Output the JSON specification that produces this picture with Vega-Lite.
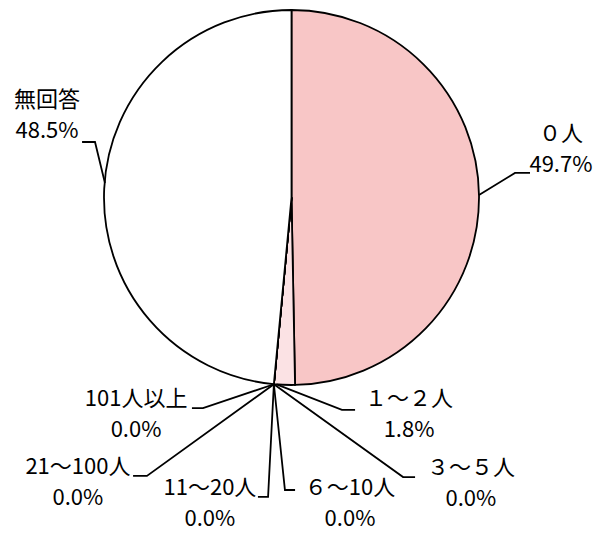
{
  "$schema": "https://vega.github.io/schema/vega-lite/v6.json",
  "width": 593,
  "height": 533,
  "padding": 0,
  "autosize": {"type": "none"},
  "background": "white",
  "config": {"view": {"stroke": null}},
  "datasets": {
    "slices": [
      {"ord": 1, "label": "０人", "value": 0.497, "lx": 143.7, "ly": -33.9},
      {"ord": 2, "label": "１～２人", "value": 0.018, "lx": 62.7, "ly": 107.2},
      {"ord": 3, "label": "３～５人", "value": 0.0, "lx": 95.7, "ly": 144.3},
      {"ord": 4, "label": "６～10人", "value": 0.0, "lx": 31.2, "ly": 154.9},
      {"ord": 5, "label": "11～20人", "value": 0.0, "lx": -43.5, "ly": 154.9},
      {"ord": 6, "label": "21～100人", "value": 0.0, "lx": -113.9, "ly": 143.7},
      {"ord": 7, "label": "101人以上", "value": 0.0, "lx": -82.9, "ly": 107.2},
      {"ord": 8, "label": "無回答", "value": 0.485, "lx": -130.4, "ly": -52.0}
    ],
    "leaders": [
      {"label": "無回答", "seq": 1, "x": -111.7, "y": -29.6},
      {"label": "無回答", "seq": 2, "x": -104.8, "y": -29.6},
      {"label": "無回答", "seq": 3, "x": -99.5, "y": -7.7},
      {"label": "０人", "seq": 1, "x": 127.2, "y": -13.1},
      {"label": "０人", "seq": 2, "x": 119.2, "y": -13.1},
      {"label": "０人", "seq": 3, "x": 100.0, "y": -1.3},
      {"label": "１～２人", "seq": 1, "x": 33.9, "y": 113.3},
      {"label": "１～２人", "seq": 2, "x": 26.9, "y": 113.3},
      {"label": "１～２人", "seq": 3, "x": -8.0, "y": 99.7},
      {"label": "３～５人", "seq": 1, "x": 65.9, "y": 149.1},
      {"label": "３～５人", "seq": 2, "x": 59.5, "y": 149.1},
      {"label": "３～５人", "seq": 3, "x": -9.4, "y": 99.6},
      {"label": "６～10人", "seq": 1, "x": 1.9, "y": 156.0},
      {"label": "６～10人", "seq": 2, "x": -3.5, "y": 156.0},
      {"label": "６～10人", "seq": 3, "x": -9.4, "y": 99.6},
      {"label": "11～20人", "seq": 1, "x": -17.9, "y": 159.7},
      {"label": "11～20人", "seq": 2, "x": -12.5, "y": 159.7},
      {"label": "11～20人", "seq": 3, "x": -9.4, "y": 99.6},
      {"label": "21～100人", "seq": 1, "x": -84.5, "y": 148.5},
      {"label": "21～100人", "seq": 2, "x": -77.1, "y": 148.5},
      {"label": "21～100人", "seq": 3, "x": -9.4, "y": 99.6},
      {"label": "101人以上", "seq": 1, "x": -53.1, "y": 112.3},
      {"label": "101人以上", "seq": 2, "x": -47.2, "y": 112.3},
      {"label": "101人以上", "seq": 3, "x": -9.4, "y": 99.6}
    ]
  },
  "layer": [
    {
      "data": {"name": "slices"},
      "mark": {"type": "arc", "outerRadius": 187.5, "stroke": "black", "strokeWidth": 1.8},
      "encoding": {
        "theta": {"field": "value", "type": "quantitative", "stack": true},
        "order": {"field": "ord", "type": "quantitative"},
        "color": {
          "field": "label",
          "type": "nominal",
          "legend": null,
          "scale": {
            "domain": ["０人", "１～２人", "３～５人", "６～10人", "11～20人", "21～100人", "101人以上", "無回答"],
            "range": ["#f8c6c6", "#fbe2e4", "#ffffff", "#ffffff", "#ffffff", "#ffffff", "#ffffff", "#ffffff"]
          }
        },
        "x": {"datum": 0, "type": "quantitative", "axis": null, "scale": {"domain": [-155.47, 160.8], "zero": false, "nice": false}},
        "y": {"datum": 0, "type": "quantitative", "axis": null, "scale": {"domain": [-105.33, 178.93], "zero": false, "nice": false, "reverse": true}}
      }
    },
    {
      "data": {"name": "leaders"},
      "mark": {"type": "line", "stroke": "black", "strokeWidth": 1.8},
      "encoding": {
        "x": {"field": "x", "type": "quantitative", "axis": null, "scale": {"domain": [-155.47, 160.8], "zero": false, "nice": false}},
        "y": {"field": "y", "type": "quantitative", "axis": null, "scale": {"domain": [-105.33, 178.93], "zero": false, "nice": false, "reverse": true}},
        "detail": {"field": "label", "type": "nominal"},
        "order": {"field": "seq", "type": "quantitative"}
      }
    },
    {
      "data": {"name": "slices"},
      "mark": {"type": "text", "font": "Noto Sans CJK JP", "fontSize": 22, "align": "center", "baseline": "middle", "fill": "black"},
      "encoding": {
        "x": {"field": "lx", "type": "quantitative", "axis": null, "scale": {"domain": [-155.47, 160.8], "zero": false, "nice": false}},
        "y": {"field": "ly", "type": "quantitative", "axis": null, "scale": {"domain": [-105.33, 178.93], "zero": false, "nice": false, "reverse": true}},
        "text": {"field": "label", "type": "nominal"}
      }
    },
    {
      "data": {"name": "slices"},
      "mark": {"type": "text", "font": "Noto Sans CJK JP", "fontSize": 22, "align": "center", "baseline": "middle", "fill": "black", "dy": 31},
      "encoding": {
        "x": {"field": "lx", "type": "quantitative", "axis": null, "scale": {"domain": [-155.47, 160.8], "zero": false, "nice": false}},
        "y": {"field": "ly", "type": "quantitative", "axis": null, "scale": {"domain": [-105.33, 178.93], "zero": false, "nice": false, "reverse": true}},
        "text": {"field": "value", "type": "quantitative", "format": ".1%"}
      }
    }
  ]
}
